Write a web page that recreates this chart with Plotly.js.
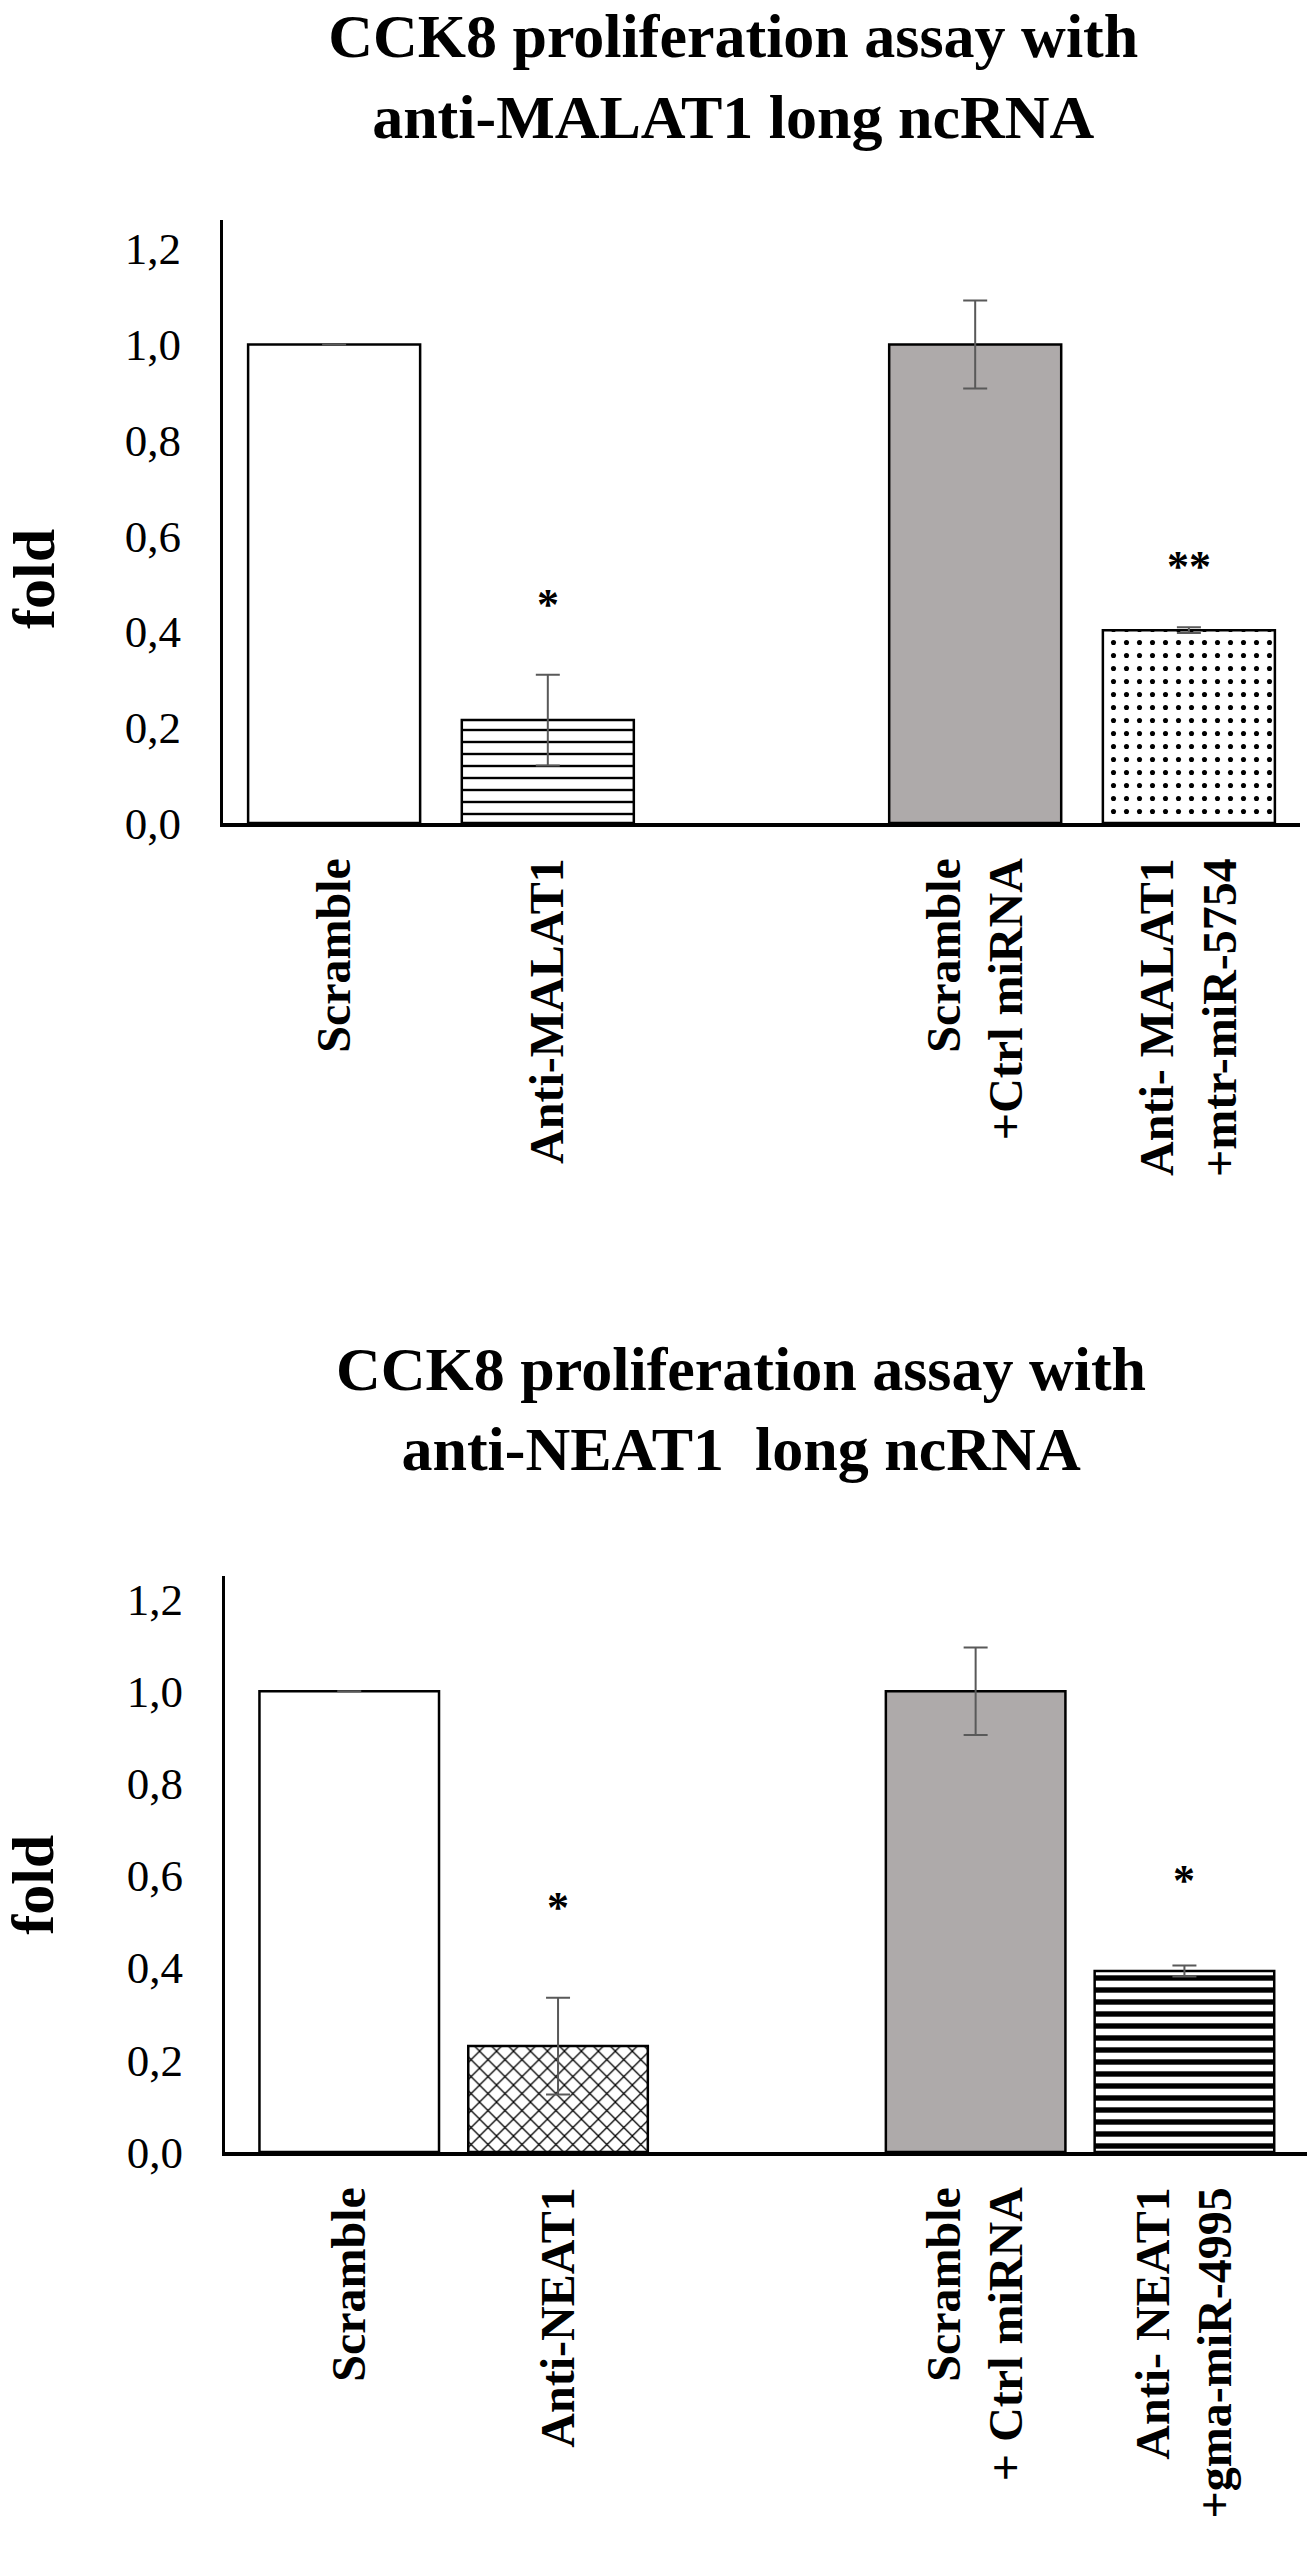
<!DOCTYPE html>
<html>
<head>
<meta charset="utf-8">
<script src="https://cdn.plot.ly/plotly-3.0.1.min.js"></script>
<style>
  body { margin: 0; background: #ffffff; }
  .panel { width: 1307px; height: 1275px; }
</style>
</head>
<body>
<div id="chart_malat1" class="panel"></div>
<div id="chart_neat1" class="panel"></div>
<script>
// category labels, the blank " " is the empty slot between the two pairs
const malat1_categories = ["Scramble", "Anti-MALAT1", " ", "Scramble<br>+Ctrl miRNA", "Anti- MALAT1<br>+mtr-miR-5754"];
const malat1_fold = [1.0, 0.215, null, 1.0, 0.403];
const malat1_err = [0, 0.095, 0, 0.092, 0.006];
const malat1_stars = ["", "*", "", "", "**"];
const malat1_star_y = [null, 0.457, null, null, 0.535];

const neat1_categories = ["Scramble", "Anti-NEAT1", " ", "Scramble<br>+ Ctrl miRNA", "Anti- NEAT1<br>+gma-miR-4995"];
const neat1_fold = [1.0, 0.23, null, 1.0, 0.393];
const neat1_err = [0, 0.105, 0, 0.095, 0.012];
const neat1_stars = ["", "*", "", "", "*"];
const neat1_star_y = [null, 0.53, null, null, 0.59];

const y_ticks = [0, 0.2, 0.4, 0.6, 0.8, 1.0, 1.2];

const SERIF = "Liberation Serif, Times New Roman, serif";
const GREY = "#aeaaaa";

function plot_fold_bars(element_id, chart_data) {
    let {title_name, categories, values, errors, stars, star_y, fold_y} = chart_data;
    let {shapes, fills, solidity, pattern_size, bar_width, x_range, y_range, margin, title_x, title_y} = chart_data;

    // one trace per bar so each one gets its own fill pattern
    let data = [];
    for (let i = 0; i < categories.length; i++) {
        if (values[i] === null) continue;
        let marker = {
            color: fills[i],
            line: {color: "black", width: 2.5}
        };
        if (shapes[i]) {
            marker.pattern = {
                shape: shapes[i],
                fgcolor: "black",
                bgcolor: fills[i],
                size: pattern_size[i],
                solidity: solidity[i]
            };
        }
        data.push({
            type: "bar",
            x: [categories[i]],
            y: [values[i]],
            width: bar_width,
            marker: marker,
            error_y: {
                type: "data",
                array: [errors[i]],
                visible: true,
                color: "#595959",
                thickness: 2,
                width: 12
            },
            hoverinfo: "skip"
        });
    }

    let annotations = [];
    for (let i = 0; i < categories.length; i++) {
        if (!stars[i]) continue;
        annotations.push({
            x: categories[i],
            y: star_y[i],
            xref: "x",
            yref: "y",
            text: stars[i],
            showarrow: false,
            font: {family: SERIF, size: 44, color: "black", weight: "bold"}
        });
    }
    // y title placed by hand, it sits lower than the axis middle
    annotations.push({
        xref: "paper",
        yref: "y",
        x: fold_y.x,
        y: fold_y.y,
        xanchor: "center",
        yanchor: "middle",
        text: "fold",
        textangle: -90,
        showarrow: false,
        font: {family: SERIF, size: 60, color: "black", weight: "bold"}
    });

    let layout = {
        width: 1307,
        height: 1275,
        margin: margin,
        paper_bgcolor: "white",
        plot_bgcolor: "white",
        showlegend: false,
        barmode: "overlay",
        separators: ", ",
        title: {
            text: title_name,
            xref: "container",
            yref: "container",
            x: title_x,
            y: title_y,
            xanchor: "center",
            yanchor: "top",
            font: {family: SERIF, size: 62, color: "black", weight: "bold"}
        },
        xaxis: {
            type: "category",
            categoryorder: "array",
            categoryarray: categories,
            range: x_range,
            showline: true,
            linecolor: "black",
            linewidth: 4,
            showgrid: false,
            zeroline: false,
            ticks: "",
            tickangle: -90,
            ticklabelstandoff: 12,
            tickfont: {family: SERIF, size: 48, color: "black", weight: "bold"}
        },
        yaxis: {
            range: y_range,
            tickvals: y_ticks,
            tickformat: ".1f",
            showline: true,
            linecolor: "black",
            linewidth: 3,
            showgrid: false,
            zeroline: false,
            ticks: "",
            ticklabelstandoff: 30,
            tickfont: {family: SERIF, size: 45, color: "black"}
        },
        annotations: annotations
    };
    let config = {displayModeBar: false, staticPlot: true};
    Plotly.newPlot(element_id, data, layout, config);
}

plot_fold_bars("chart_malat1", {
    title_name: "CCK8 proliferation assay with<br>anti-MALAT1 long ncRNA",
    categories: malat1_categories,
    values: malat1_fold,
    errors: malat1_err,
    stars: malat1_stars,
    star_y: malat1_star_y,
    fold_y: {x: -0.1755, y: 0.51},
    shapes: ["", "-", "", "", "."],
    fills: ["white", "white", "white", GREY, "white"],
    solidity: [0.2, 0.2, 0.2, 0.2, 0.12],
    pattern_size: [12, 12, 12, 12, 13],
    bar_width: 0.805,
    x_range: [-0.52, 4.52],
    y_range: [0, 1.26],
    margin: {l: 223, r: 7, t: 220, b: 452, pad: 0},
    title_x: 0.561,
    title_y: 0.955
});

plot_fold_bars("chart_neat1", {
    title_name: "CCK8 proliferation assay with<br>anti-NEAT1  long ncRNA",
    categories: neat1_categories,
    values: neat1_fold,
    errors: neat1_err,
    stars: neat1_stars,
    star_y: neat1_star_y,
    fold_y: {x: -0.1774, y: 0.58},
    shapes: ["", "x", "", "", "-"],
    fills: ["white", "white", "white", GREY, "white"],
    solidity: [0.2, 0.2, 0.2, 0.2, 0.45],
    pattern_size: [12, 12, 12, 12, 12],
    bar_width: 0.86,
    x_range: [-0.595, 4.587],
    y_range: [0, 1.25],
    margin: {l: 225, r: 0, t: 301, b: 398, pad: 0},
    title_x: 0.567,
    title_y: 0.910
});
</script>
</body>
</html>
